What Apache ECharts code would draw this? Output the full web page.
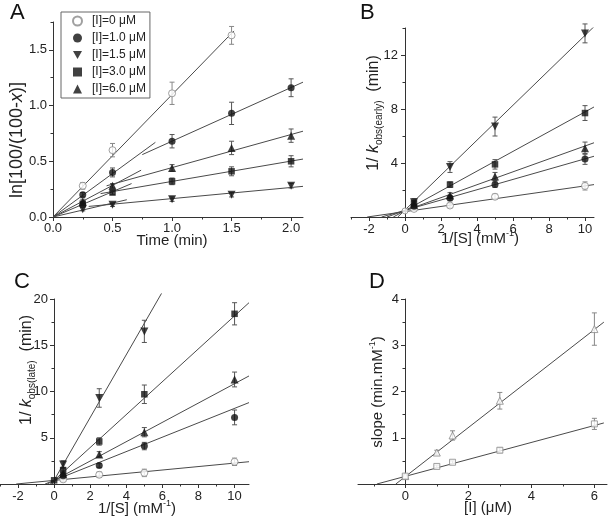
<!DOCTYPE html>
<html><head><meta charset="utf-8">
<script src="https://cdn.jsdelivr.net/npm/echarts@6/dist/echarts.min.js"></script>
<style>html,body{margin:0;padding:0;background:#fff}#c{width:610px;height:522px}</style>
</head><body><div id="c"></div>
<script>
// ---------- DATA ----------
const seriesNames = ['[I]=0 μM', '[I]=1.0 μM', '[I]=1.5 μM', '[I]=3.0 μM', '[I]=6.0 μM'];

// Panel A: time course
const timeA = [0.25, 0.5, 1.0, 1.5, 2.0];
const timeA0 = [0.25, 0.5, 1.0, 1.5];
const lnA_I0 = [0.28, 0.60, 1.11, 1.63];
const lnA_I1 = [0.20, 0.40, 0.68, 0.93, 1.16];
const lnA_I15 = [0.07, 0.11, 0.16, 0.20, 0.28];
const lnA_I3 = [0.12, 0.22, 0.32, 0.41, 0.50];
const lnA_I6 = [0.14, 0.28, 0.44, 0.62, 0.73];
const errA_I0 = [0.03, 0.06, 0.10, 0.08];
const errA_I1 = [0.02, 0.04, 0.06, 0.10, 0.08];
const errA_I15 = [0.015, 0.015, 0.02, 0.02, 0.02];
const errA_I3 = [0.015, 0.02, 0.03, 0.04, 0.05];
const errA_I6 = [0.02, 0.02, 0.03, 0.06, 0.06];
// fitted line segments (endpoints)
const fitA_I0 = [[0, 0], [1.52, 1.67]];
const fitA_I1e = [[0, 0], [0.86, 0.67]];
const fitA_I1l = [[0.75, 0.56], [2.1, 1.21]];
const fitA_I6e = [[0, 0], [0.74, 0.42]];
const fitA_I6l = [[0.45, 0.28], [2.1, 0.77]];
const fitA_I3e = [[0, 0], [0.66, 0.30]];
const fitA_I3l = [[0.4, 0.21], [2.1, 0.52]];
const fitA_I15e = [[0, 0], [0.62, 0.155]];
const fitA_I15l = [[0.3, 0.095], [2.1, 0.275]];

// Panel B: 1/k_obs(early) vs 1/[S]
const invS = [0.5, 2.5, 5, 10];
const kB_I0 = [0.6, 0.85, 1.5, 2.3];
const kB_I1 = [0.8, 1.4, 2.4, 4.3];
const kB_I15 = [1.1, 3.7, 6.7, 13.6];
const kB_I3 = [1.0, 2.4, 3.9, 7.7];
const kB_I6 = [0.9, 1.6, 3.0, 5.1];
const errB_I0 = [0.1, 0.15, 0.2, 0.3];
const errB_I1 = [0.1, 0.2, 0.2, 0.4];
const errB_I15 = [0.25, 0.4, 0.7, 0.7];
const errB_I3 = [0.2, 0.2, 0.35, 0.55];
const errB_I6 = [0.2, 0.2, 0.3, 0.45];
const zeroB = [[0, 0.45]];
const fitB_I0 = [[-2.1, 0], [10.5, 2.4]];
const fitB_I1 = [[-1.3, 0], [10.5, 4.5]];
const fitB_I6 = [[-1.0, 0], [10.5, 5.5]];
const fitB_I3 = [[-0.65, 0], [10.5, 8.15]];
const fitB_I15 = [[-0.4, 0], [10.5, 14.1]];

// Panel C: 1/k_obs(late) vs 1/[S]
const invSC15 = [0.5, 2.5, 5];
const kC_I0 = [0.5, 1.0, 1.2, 2.4];
const kC_I1 = [0.9, 2.0, 4.1, 7.2];
const kC_I15 = [2.1, 9.3, 16.5];
const kC_I3 = [1.5, 4.6, 9.7, 18.4];
const kC_I6 = [1.1, 3.2, 5.6, 11.3];
const errC_I0 = [0.2, 0.3, 0.4, 0.4];
const errC_I1 = [0.2, 0.2, 0.4, 0.8];
const errC_I15 = [0.4, 1.0, 1.2];
const errC_I3 = [0.3, 0.4, 1.0, 1.2];
const errC_I6 = [0.3, 0.3, 0.5, 0.8];
const zeroC = [[0, 0.4]];
const fitC_I0 = [[-2.1, 0], [10.8, 2.41]];
const fitC_I1 = [[-0.5, 0], [10.8, 8.8]];
const fitC_I6 = [[-0.38, 0], [10.8, 11.68]];
const fitC_I3 = [[-0.22, 0], [10.8, 19.6]];
const fitC_I15 = [[-0.12, 0], [5.95, 20.6]];

// Panel D: slope vs [I]
const concI = [0, 1, 1.5, 3, 6];
const slopeLate = [0.17, 0.68, 1.05, 1.8, 3.35];
const slopeEarly = [0.17, 0.38, 0.47, 0.73, 1.3];
const errLate = [0.03, 0.05, 0.1, 0.18, 0.35];
const errEarly = [0.02, 0.03, 0.03, 0.05, 0.12];
const fitD_late = [[-0.3, 0], [6.3, 3.5]];
const fitD_early = [[-0.9, 0], [6.3, 1.32]];

// tick values
const ticksA_x = [0, 0.5, 1.0, 1.5, 2.0];
const minorA_x = [0.25, 0.75, 1.25, 1.75];
const ticksA_y = [0, 0.5, 1.0, 1.5];
const minorA_y = [0.25, 0.75, 1.25, 1.75];
const ticksBC_x = [-2, 0, 2, 4, 6, 8, 10];
const minorBC_x = [-3, -1, 1, 3, 5, 7, 9];
const ticksB_y = [0, 4, 8, 12];
const labelsB_y = [4, 8, 12];
const minorB_y = [2, 6, 10, 14];
const ticksC_y = [0, 5, 10, 15, 20];
const labelsC_y = [5, 10, 15, 20];
const minorC_y = [2.5, 7.5, 12.5, 17.5];
const ticksD_x = [0, 2, 4, 6];
const minorD_x = [-1, 1, 3, 5];
const ticksD_y = [0, 1, 2, 3, 4];
const labelsD_y = [1, 2, 3, 4];
const minorD_y = [0.5, 1.5, 2.5, 3.5];

// ---------- STYLE ----------
const FONT = '"Liberation Sans", Arial, sans-serif';
const AX = '#333';
const FIT = '#4a4a4a';
const SYM_DOWN = 'path://M0,0L10,0L5,9Z';
const styleFilled = {color: '#111'};
const styleOpen = {color: '#fff', borderColor: '#888', borderWidth: 1};

function zip(xs, ys, es) { return xs.map((x, i) => es ? [x, ys[i], es[i]] : [x, ys[i]]); }

function axisPair(dim, gi, min, max, majors, labels, minors, fmt, offset, margin) {
  const major = {
    type: 'value', gridIndex: gi, min: min, max: max, offset: offset,
    position: dim === 'x' ? 'bottom' : 'left',
    axisLine: {show: true, onZero: false, lineStyle: {color: AX, width: 1}},
    axisTick: {show: true, customValues: majors, length: 4, lineStyle: {color: AX, width: 1}},
    axisLabel: {customValues: labels, formatter: fmt, color: '#222', fontSize: 13, fontFamily: FONT, margin: margin},
    splitLine: {show: false}
  };
  const minor = {
    type: 'value', gridIndex: gi, min: min, max: max, offset: offset,
    position: dim === 'x' ? 'bottom' : 'left',
    axisLine: {show: false, onZero: false},
    axisTick: {show: true, customValues: minors, length: 2.5, lineStyle: {color: AX, width: 1}},
    axisLabel: {show: false},
    splitLine: {show: false}
  };
  return [major, minor];
}

const f1 = v => v.toFixed(1);
const f0 = v => String(Math.round(v));

const xAxes = [].concat(
  axisPair('x', 0, 0, 2.1, ticksA_x, ticksA_x, minorA_x, f1, 0, 5),
  axisPair('x', 1, -3, 10.5, ticksBC_x, ticksBC_x, minorBC_x, f0, 0, 6),
  axisPair('x', 2, -3, 10.8, ticksBC_x, ticksBC_x, minorBC_x, f0, 0, 6),
  axisPair('x', 3, -1.5, 6.4, ticksD_x, ticksD_x, minorD_x, f0, 0, 6)
);
const yAxes = [].concat(
  axisPair('y', 0, 0, 1.75, ticksA_y, ticksA_y, minorA_y, f1, 0, 6),
  axisPair('y', 1, 0, 14, ticksB_y, labelsB_y, minorB_y, f0, -54, 7),
  axisPair('y', 2, 0, 20, ticksC_y, labelsC_y, minorC_y, f0, -54, 6),
  axisPair('y', 3, 0, 4, ticksD_y, labelsD_y, minorD_y, f0, -47, 6)
);

const grids = [
  {left: 53, top: 22, width: 250, height: 195, outerBoundsMode: 'none'},
  {left: 351, top: 28, width: 243, height: 189, outerBoundsMode: 'none'},
  {left: 0, top: 299, width: 249, height: 185, outerBoundsMode: 'none'},
  {left: 358, top: 299, width: 249, height: 185, outerBoundsMode: 'none'}
];

// axis titles (rich text)
function richSet(fs) {
  return {
    n: {fontSize: fs, fontFamily: FONT, fill: '#222', lineHeight: 20, verticalAlign: 'middle'},
    i: {fontSize: fs, fontFamily: FONT, fill: '#222', fontStyle: 'italic', lineHeight: 20, verticalAlign: 'middle'},
    sub: {fontSize: 10, fontFamily: FONT, fill: '#222', lineHeight: 20, verticalAlign: 'bottom'},
    sup: {fontSize: 9, fontFamily: FONT, fill: '#222', lineHeight: 20, verticalAlign: 'top'}
  };
}
function axisTitle(text, x, y, fs, vertical) {
  return {type: 'text', x: x, y: y, rotation: vertical ? Math.PI / 2 : 0, silent: true,
    style: {text: text, fontSize: fs, fontFamily: FONT, fill: '#222', align: 'center', verticalAlign: 'middle', rich: richSet(fs)}};
}
const graphics = [
  axisTitle('{n|Time (min)}', 172, 241, 15, false),
  axisTitle('{n|ln[100/(100-}{i|x}{n|)]}', 17, 140, 18, true),
  axisTitle('{n|1/[S] (mM}{sup|-1}{n|)}', 480, 239, 15, false),
  axisTitle('{n|1/ }{i|k}{sub|obs(early)}{n|  (min)}', 374, 113, 16, true),
  axisTitle('{n|1/[S] (mM}{sup|-1}{n|)}', 137, 509, 15, false),
  axisTitle('{n|1/ }{i|k}{sub|obs(late)}{n|  (min)}', 27, 370, 16, true),
  axisTitle('{n|[I] (μM)}', 488, 508, 15, false),
  axisTitle('{n|slope (min.mM}{sup|-1}{n|)}', 378, 392, 15, true)
];

const series = [];
function scatter(name, gi, data, symbol, size, style, z) {
  series.push({type: 'scatter', name: name, xAxisIndex: 2 * gi, yAxisIndex: 2 * gi, data: data,
    symbol: symbol, symbolSize: size, itemStyle: style, z: z || 4, silent: true});
}
function fit(gi, data, clip) {
  series.push({type: 'line', xAxisIndex: 2 * gi, yAxisIndex: 2 * gi, data: data, symbol: 'none',
    lineStyle: {color: FIT, width: 1}, z: 2, silent: true, clip: clip !== false, animation: false});
}
function errbars(gi, data, color) {
  series.push({type: 'custom', xAxisIndex: 2 * gi, yAxisIndex: 2 * gi, data: data, z: 3, silent: true,
    encode: {x: 0, y: 1},
    renderItem: function (params, api) {
      const x = api.value(0), y = api.value(1), e = api.value(2);
      const t = api.coord([x, y + e]), b = api.coord([x, y - e]);
      const w = 2.5, st = {stroke: color, lineWidth: 1};
      return {type: 'group', children: [
        {type: 'line', shape: {x1: t[0], y1: t[1], x2: b[0], y2: b[1]}, style: st},
        {type: 'line', shape: {x1: t[0] - w, y1: t[1], x2: t[0] + w, y2: t[1]}, style: st},
        {type: 'line', shape: {x1: b[0] - w, y1: b[1], x2: b[0] + w, y2: b[1]}, style: st}
      ]};
    }});
}

// Panel A
[fitA_I0, fitA_I1e, fitA_I1l, fitA_I6e, fitA_I6l, fitA_I3e, fitA_I3l, fitA_I15e, fitA_I15l].forEach(d => fit(0, d));
errbars(0, zip(timeA0, lnA_I0, errA_I0), '#888');
errbars(0, zip(timeA, lnA_I1, errA_I1), '#555');
errbars(0, zip(timeA, lnA_I15, errA_I15), '#555');
errbars(0, zip(timeA, lnA_I3, errA_I3), '#555');
errbars(0, zip(timeA, lnA_I6, errA_I6), '#555');
scatter(seriesNames[0], 0, zip(timeA0, lnA_I0), 'circle', 7, styleOpen);
scatter(seriesNames[1], 0, zip(timeA, lnA_I1), 'circle', 7, styleFilled);
scatter(seriesNames[2], 0, zip(timeA, lnA_I15), SYM_DOWN, 8, styleFilled);
scatter(seriesNames[3], 0, zip(timeA, lnA_I3), 'rect', 6.5, styleFilled);
scatter(seriesNames[4], 0, zip(timeA, lnA_I6), 'triangle', 8, styleFilled);

// Panel B
[fitB_I0, fitB_I1, fitB_I6, fitB_I3, fitB_I15].forEach(d => fit(1, d));
errbars(1, zip(invS, kB_I0, errB_I0), '#888');
errbars(1, zip(invS, kB_I1, errB_I1), '#555');
errbars(1, zip(invS, kB_I15, errB_I15), '#555');
errbars(1, zip(invS, kB_I3, errB_I3), '#555');
errbars(1, zip(invS, kB_I6, errB_I6), '#555');
scatter('B0', 1, zip(invS, kB_I0), 'circle', 7, styleOpen);
scatter('B0z', 1, zeroB, 'circle', 6, styleOpen);
scatter('B1', 1, zip(invS, kB_I1), 'circle', 7, styleFilled);
scatter('B15', 1, zip(invS, kB_I15), SYM_DOWN, 8, styleFilled);
scatter('B3', 1, zip(invS, kB_I3), 'rect', 6.5, styleFilled);
scatter('B6', 1, zip(invS, kB_I6), 'triangle', 8, styleFilled);

// Panel C
[fitC_I0, fitC_I1, fitC_I6, fitC_I3].forEach(d => fit(2, d));
fit(2, fitC_I15, false);
errbars(2, zip(invS, kC_I0, errC_I0), '#888');
errbars(2, zip(invS, kC_I1, errC_I1), '#555');
errbars(2, zip(invSC15, kC_I15, errC_I15), '#555');
errbars(2, zip(invS, kC_I3, errC_I3), '#555');
errbars(2, zip(invS, kC_I6, errC_I6), '#555');
scatter('C0', 2, zip(invS, kC_I0), 'circle', 7, styleOpen);
scatter('C1', 2, zip(invS, kC_I1), 'circle', 7, styleFilled);
scatter('C15', 2, zip(invSC15, kC_I15), SYM_DOWN, 8, styleFilled);
scatter('C3', 2, zip(invS, kC_I3), 'rect', 6.5, styleFilled);
scatter('C3z', 2, zeroC, 'rect', 6.5, styleFilled);
scatter('C6', 2, zip(invS, kC_I6), 'triangle', 8, styleFilled);

// Panel D
fit(3, fitD_late);
fit(3, fitD_early);
errbars(3, zip(concI, slopeLate, errLate), '#888');
errbars(3, zip(concI, slopeEarly, errEarly), '#888');
scatter('late', 3, zip(concI, slopeLate), 'triangle', 7, styleOpen);
scatter('early', 3, zip(concI, slopeEarly), 'rect', 6, styleOpen);

const titleStyle = {fontSize: 22, fontWeight: 'normal', fontFamily: FONT, color: '#111'};
const option = {
  animation: false,
  backgroundColor: '#fff',
  title: [
    {text: 'A', left: 5, top: -3, textStyle: titleStyle},
    {text: 'B', left: 355, top: -3, textStyle: titleStyle},
    {text: 'C', left: 9, top: 266, textStyle: titleStyle},
    {text: 'D', left: 364, top: 266, textStyle: titleStyle}
  ],
  legend: {
    data: seriesNames, orient: 'vertical', left: 61, top: 12,
    itemWidth: 9, itemHeight: 9, itemGap: 5, padding: [3, 4, 3, 11],
    borderColor: '#666', borderWidth: 1, selectedMode: false,
    textStyle: {fontSize: 12, fontFamily: FONT, color: '#222', padding: [0, 0, 0, 5]}
  },
  graphic: graphics,
  grid: grids,
  xAxis: xAxes,
  yAxis: yAxes,
  series: series
};
const chart = echarts.init(document.getElementById('c'), null, {renderer: 'canvas'});
chart.setOption(option);
</script></body></html>
